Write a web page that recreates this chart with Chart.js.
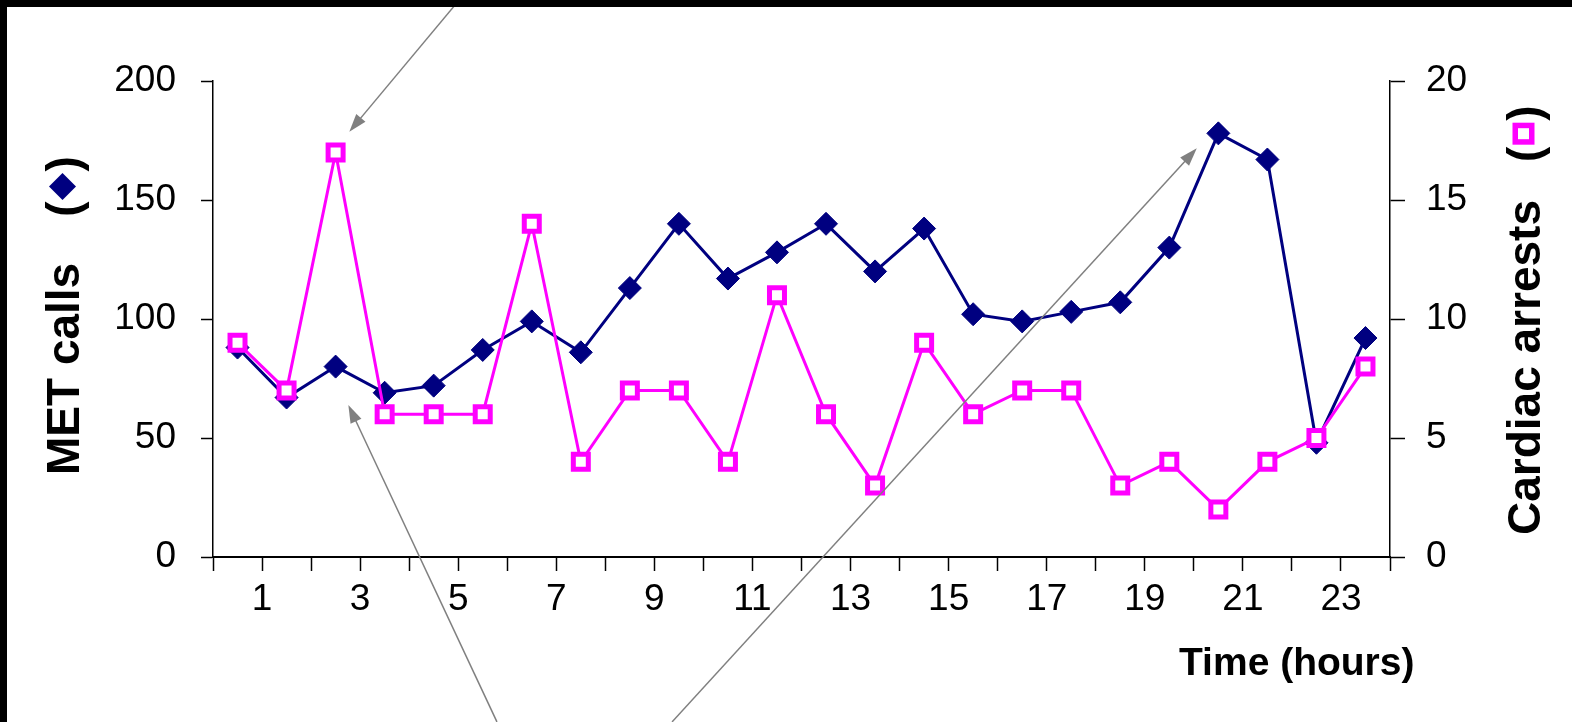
<!DOCTYPE html>
<html>
<head>
<meta charset="utf-8">
<title>MET calls and cardiac arrests by hour</title>
<script src="https://cdn.jsdelivr.net/npm/chart.js@4.4.0/dist/chart.umd.min.js"></script>
<style>
html, body { margin: 0; padding: 0; background: #fff; }
canvas { display: block; }
</style>
</head>
<body>
<canvas id="metChart" width="1572" height="722"></canvas>
<script>
// hour of day (mid-point of each hour bin)
var hours = [0.5, 1.5, 2.5, 3.5, 4.5, 5.5, 6.5, 7.5, 8.5, 9.5, 10.5, 11.5,
             12.5, 13.5, 14.5, 15.5, 16.5, 17.5, 18.5, 19.5, 20.5, 21.5, 22.5, 23.5];
var metCalls = [88, 67, 80, 69, 72, 87, 99, 86, 113, 140, 117, 128,
                140, 120, 138, 102, 99, 103, 107, 130, 178, 167, 48, 92];
var cardiacArrests = [9, 7, 17, 6, 6, 6, 14, 4, 7, 7, 4, 11,
                      6, 3, 9, 6, 7, 7, 3, 4, 2, 4, 5, 8];
var hourLabels = [1, 3, 5, 7, 9, 11, 13, 15, 17, 19, 21, 23];
var metTicks = [0, 50, 100, 150, 200];
var arrestTicks = [0, 5, 10, 15, 20];

// grey pointer arrows, in (hour, MET calls) units
var arrows = [
    { from: [5.02, 234], to: [2.78, 178.7] },
    { from: [5.79, -69.3], to: [2.76, 63.9] },
    { from: [9.36, -69.3], to: [20.06, 171.7] }
];

var navy = '#000080';
var magenta = '#ff00ff';
var tickFont = { family: '"Liberation Sans", Arial, sans-serif', size: 37 };

function toPoints(xs, ys) {
    return xs.map(function (x, i) { return { x: x, y: ys[i] }; });
}

function drawArrow(ctx, x0, y0, x1, y1) {
    var ang = Math.atan2(y1 - y0, x1 - x0);
    var head = 18, half = 6;
    var c = Math.cos(ang), s = Math.sin(ang);
    ctx.beginPath();
    ctx.moveTo(x0, y0);
    ctx.lineTo(x1 - head * 0.8 * c, y1 - head * 0.8 * s);
    ctx.stroke();
    ctx.beginPath();
    ctx.moveTo(x1, y1);
    ctx.lineTo(x1 - head * c + half * s, y1 - head * s - half * c);
    ctx.lineTo(x1 - head * c - half * s, y1 - head * s + half * c);
    ctx.closePath();
    ctx.fill();
}

// rotated title: text, gap, "(", symbol, ")"  -- reads bottom to top
function drawSideTitle(ctx, baseX, startY, text, gap, slot, symbol) {
    var cap = 33;
    ctx.save();
    ctx.translate(baseX, startY);
    ctx.rotate(-Math.PI / 2);
    ctx.font = 'bold 46px "Liberation Sans", Arial, sans-serif';
    ctx.fillStyle = '#000';
    ctx.textAlign = 'left';
    ctx.textBaseline = 'alphabetic';
    var pos = 0;
    ctx.fillText(text, pos, 0);
    pos += ctx.measureText(text).width + gap;
    ctx.fillText('(', pos, 0);
    pos += ctx.measureText('(').width;
    symbol(ctx, pos + slot / 2, -cap / 2);
    pos += slot;
    ctx.fillText(')', pos, 0);
    ctx.restore();
}

function diamondSymbol(ctx, x, y) {
    var r = 13.5;
    ctx.fillStyle = navy;
    ctx.beginPath();
    ctx.moveTo(x - r, y);
    ctx.lineTo(x, y - r);
    ctx.lineTo(x + r, y);
    ctx.lineTo(x, y + r);
    ctx.closePath();
    ctx.fill();
    ctx.fillStyle = '#000';
}

function squareSymbol(ctx, x, y) {
    ctx.fillStyle = '#fff';
    ctx.fillRect(x - 8, y - 8, 16, 16);
    ctx.strokeStyle = magenta;
    ctx.lineWidth = 5.5;
    ctx.strokeRect(x - 8.25, y - 8.25, 16.5, 16.5);
    ctx.fillStyle = '#000';
}

var decorPlugin = {
    id: 'decor',
    beforeDraw: function (chart) {
        var ctx = chart.ctx;
        ctx.save();
        ctx.fillStyle = '#fff';
        ctx.fillRect(0, 0, chart.width, chart.height);
        ctx.restore();
    },
    afterDraw: function (chart) {
        var ctx = chart.ctx;
        var xs = chart.scales.x, ys = chart.scales.y;

        ctx.save();
        ctx.strokeStyle = '#808080';
        ctx.fillStyle = '#808080';
        ctx.lineWidth = 1.5;
        arrows.forEach(function (a) {
            drawArrow(ctx,
                xs.getPixelForValue(a.from[0]), ys.getPixelForValue(a.from[1]),
                xs.getPixelForValue(a.to[0]), ys.getPixelForValue(a.to[1]));
        });
        ctx.restore();

        drawSideTitle(ctx, 79, 475, 'MET calls', 46, 30, diamondSymbol);
        drawSideTitle(ctx, 1540, 535, 'Cardiac arrests', 38, 26, squareSymbol);

        ctx.save();
        ctx.font = 'bold 39px "Liberation Sans", Arial, sans-serif';
        ctx.fillStyle = '#000';
        ctx.textAlign = 'left';
        ctx.textBaseline = 'alphabetic';
        ctx.fillText('Time (hours)', 1179, 675);
        ctx.restore();

        // black frame on top and left edge
        ctx.save();
        ctx.fillStyle = '#000';
        ctx.fillRect(0, 0, chart.width, 7);
        ctx.fillRect(0, 0, 7, chart.height);
        ctx.restore();
    }
};

var ctx = document.getElementById('metChart').getContext('2d');
var metChart = new Chart(ctx, {
    type: 'line',
    data: {
        datasets: [
            {
                label: 'MET calls',
                data: toPoints(hours, metCalls),
                yAxisID: 'y',
                order: 1,
                borderColor: navy,
                backgroundColor: navy,
                borderWidth: 3,
                pointStyle: 'rectRot',
                pointRadius: 11.5,
                pointBorderWidth: 1,
                pointBackgroundColor: navy,
                pointBorderColor: navy,
                tension: 0
            },
            {
                label: 'Cardiac arrests',
                data: toPoints(hours, cardiacArrests),
                yAxisID: 'y1',
                order: 0,
                borderColor: magenta,
                backgroundColor: '#fff',
                borderWidth: 3,
                pointStyle: 'rect',
                pointRadius: 10.6,
                pointBorderWidth: 5,
                pointBackgroundColor: '#fff',
                pointBorderColor: magenta,
                tension: 0
            }
        ]
    },
    options: {
        responsive: false,
        animation: false,
        devicePixelRatio: 1,
        layout: {
            padding: { top: 81, left: 0, right: 0, bottom: 0 }
        },
        plugins: {
            legend: { display: false },
            tooltip: { enabled: false }
        },
        scales: {
            x: {
                type: 'linear',
                min: 0,
                max: 24,
                afterFit: function (scale) { scale.height = 165; },
                ticks: {
                    stepSize: 1,
                    autoSkip: false,
                    maxRotation: 0,
                    minRotation: 0,
                    padding: 7,
                    color: '#000',
                    font: tickFont,
                    callback: function (v) {
                        return hourLabels.indexOf(v) >= 0 ? String(v) : '';
                    }
                },
                grid: {
                    drawOnChartArea: false,
                    drawTicks: true,
                    tickLength: 14,
                    tickColor: '#000',
                    tickWidth: 1.5
                },
                border: { color: '#000', width: 2 }
            },
            y: {
                position: 'left',
                min: metTicks[0],
                max: metTicks[metTicks.length - 1],
                afterFit: function (scale) { scale.width = 213; },
                afterBuildTicks: function (scale) {
                    scale.ticks = metTicks.map(function (v) { return { value: v }; });
                },
                ticks: {
                    padding: 25,
                    color: '#000',
                    font: tickFont
                },
                grid: {
                    drawOnChartArea: false,
                    tickLength: 12,
                    tickColor: '#000',
                    tickWidth: 1.5
                },
                border: { color: '#000', width: 1.5 }
            },
            y1: {
                position: 'right',
                min: arrestTicks[0],
                max: arrestTicks[arrestTicks.length - 1],
                afterFit: function (scale) { scale.width = 182; },
                afterBuildTicks: function (scale) {
                    scale.ticks = arrestTicks.map(function (v) { return { value: v }; });
                },
                ticks: {
                    padding: 21,
                    color: '#000',
                    font: tickFont
                },
                grid: {
                    drawOnChartArea: false,
                    tickLength: 15,
                    tickColor: '#000',
                    tickWidth: 1.5
                },
                border: { color: '#000', width: 1.5 }
            }
        }
    },
    plugins: [decorPlugin]
});
</script>
</body>
</html>
